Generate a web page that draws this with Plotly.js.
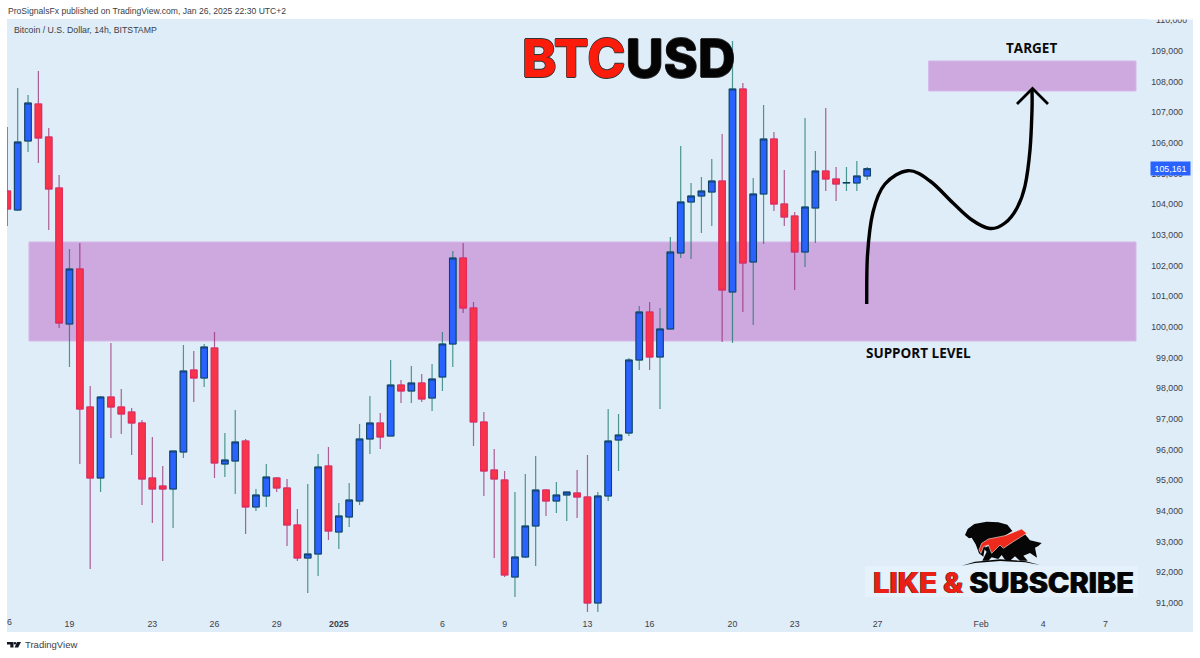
<!DOCTYPE html>
<html><head><meta charset="utf-8">
<script src="https://cdn.plot.ly/plotly-3.0.1.min.js"></script>
<style>html,body{margin:0;padding:0;background:#fff}#c{width:1200px;height:658px}</style>
</head><body><div id="c"></div>
<script>
const opens=[104434,103814,106065,107272,106196,104532,100094,101889,97386,95069,97712,97386,97222,96864,95069,94808,94710,95917,98593,98332,99311,95526,95624,96276,94123,94482,95069,94743,93535,92458,92589,95460,93307,93796,94318,96342,96864,96439,98103,97908,98169,97679,98364,99441,102247,100616,96896,95330,95004,91838,92491,93503,94677,94318,94514,94579,94449,90990,94482,96309,96537,98919,100485,99017,99931,102411,104075,104271,104401,104760,101138,107762,102117,104336,106130,104009,103618,102443,103879,105086,104825,104695,104695,104923];
const closes=[103846,106033,107305,106163,104499,100127,101889,97320,95069,97712,97386,97157,96864,95036,94710,94710,95950,98560,98332,99343,95558,95656,96244,94123,94514,95101,94743,93535,92458,92589,95428,93339,93829,94351,96342,96864,96407,98103,97908,98169,97647,98299,99441,102247,100616,96896,95297,95036,91904,92491,93503,94677,94318,94514,94612,94449,90990,94482,96276,96472,98919,100485,99017,99931,102443,104075,104271,104434,104760,101203,107762,102084,104336,106130,104009,103585,102443,103912,105086,104825,104662,104710,104923,105161];
const highs=[106522,107795,107566,108349,106489,104956,102541,102737,98071,97745,99474,97973,97353,96961,96407,95460,95950,99409,99213,99441,99833,96537,97288,96342,94710,95526,95101,95036,94057,94873,95852,96080,94253,94906,96831,97745,97190,98919,98267,98723,98462,98789,99833,102476,102737,100812,97222,96015,95297,94612,95199,95787,94710,94938,94612,95330,95819,94612,97320,97157,98984,100681,100812,100616,102933,105902,104695,104890,105478,106294,109328,107958,104858,107240,106359,105119,103748,106816,105739,107142,105217,105217,105413,105217];
const lows=[103292,103781,105706,105347,103161,99963,98691,95526,92100,94612,96374,96505,95819,94188,93601,92361,93437,95721,97549,98038,95069,95101,94547,93242,93992,94123,94612,92850,92361,91316,91871,93046,92752,93470,94188,95852,96015,96439,97516,97516,97549,97255,97908,98691,100453,96113,94482,92458,91838,91186,92458,92197,93829,93927,93666,93764,90696,90696,94318,95297,96439,98593,98593,97320,99931,102247,102215,103063,103292,99507,99474,100485,100061,102704,103781,103292,101203,101954,102737,104434,104107,104434,104434,104793];
const tickIndex=[6,14,20,26,32,42,48,56,62,70,76,84,94,100,106];
const tickText=['19','23','26','29','<b>2025</b>','6','9','13','16','20','23','27','Feb','4','7'];
const priceTicks=[91000,92000,93000,94000,95000,96000,97000,98000,99000,100000,101000,102000,103000,104000,105000,106000,107000,108000,109000];
const supportZone=[99540,102770];
const targetZone=[107697,108676];
const lastPrice=105161;
const indexes=opens.map((_,i)=>i);

const L=7,R=1193,T=19,B=632;
const xr=[-0.03,114.45], yr=[90044,110046];
const px=x=>(x-L)/(R-L), py=y=>1-(y-T)/(B-T);
const poly=(pts,close)=>pts.map((p,i)=>(i?'L':'M')+px(p[0]).toFixed(5)+' '+py(p[1]).toFixed(5)).join(' ')+(close?' Z':'');
function smooth(pts){
  let d='M'+px(pts[0][0]).toFixed(5)+' '+py(pts[0][1]).toFixed(5);
  for(let i=0;i<pts.length-1;i++){
    const a=pts[Math.max(i-1,0)],b=pts[i],c=pts[i+1],e=pts[Math.min(i+2,pts.length-1)];
    const c1=[b[0]+(c[0]-a[0])/6,b[1]+(c[1]-a[1])/6],c2=[c[0]-(e[0]-b[0])/6,c[1]-(e[1]-b[1])/6];
    d+=' C'+[c1,c2,c].map(p=>px(p[0]).toFixed(5)+' '+py(p[1]).toFixed(5)).join(' ');
  }
  return d;
}
const curve=[[866.7,304],[867.5,255],[873,212],[885,184],[908,170.7],[930,181],[953,203],[972,220],[990,228.5],[1005,223],[1017,208],[1025,186],[1030,150],[1032,110],[1032,89]];
const logoXY=a=>a.map(p=>[955+p[0]/3,515+p[1]/3]);
const bear=logoXY([[30,60],[38,42],[58,27],[95,20],[130,22],[157,29],[172,48],[150,62],[110,80],[90,95],[85,125],[72,115],[62,88],[50,68],[42,70]]);
const bull=logoXY([[85,100],[150,72],[210,58],[225,76],[260,84],[250,93],[240,98],[246,128],[225,114],[205,122],[218,137],[195,137],[180,124],[165,137],[150,134],[140,120],[130,132],[110,127],[100,137],[82,137],[95,110]]);
const red=logoXY([[72,105],[80,85],[100,72],[150,62],[200,42],[215,55],[175,80],[145,100],[135,90],[110,115],[100,90],[85,95],[78,115]]);
const ground=logoXY([[20,152],[60,140],[135,133],[210,138],[255,150],[210,142],[135,138],[60,144]]);
const pathShape=(d,fill,line,w)=>({type:'path',xref:'paper',yref:'paper',path:d,fillcolor:fill,line:{color:line||fill,width:w||0},layer:'above'});

const wickUp='rgba(25,120,110,0.75)', wickDn='rgba(150,40,110,0.72)';
const wicks={type:'candlestick',x:indexes,open:opens,high:highs,low:lows,close:closes,whiskerwidth:0,hoverinfo:'skip',showlegend:false,
  increasing:{line:{color:wickUp,width:1.2},fillcolor:'rgba(0,0,0,0)'},decreasing:{line:{color:wickDn,width:1.2},fillcolor:'rgba(0,0,0,0)'}};
const bodies={type:'candlestick',x:indexes,open:opens,close:closes,
  high:opens.map((o,i)=>Math.max(o,closes[i])),low:opens.map((o,i)=>Math.min(o,closes[i])),whiskerwidth:0,hoverinfo:'skip',showlegend:false,
  increasing:{line:{color:'#123f63',width:1},fillcolor:'#2962ff'},decreasing:{line:{color:'#e8285a',width:1},fillcolor:'#f7344a'}};

const sans='"Liberation Sans",sans-serif';
const tickFont={family:sans,size:8.8,color:'#3c4048'};
const ann=(x,y,text,font,extra)=>Object.assign({xref:'paper',yref:'paper',x:px(x),y:py(y),text,showarrow:false,font,xanchor:'left',yanchor:'middle',borderpad:0},extra||{});
const layout={
  width:1200,height:658,margin:{l:L,r:1200-R,t:T,b:658-B,pad:0},paper_bgcolor:'#ffffff',plot_bgcolor:'#dfedf9',
  showlegend:false,boxmode:'overlay',boxgap:0.1,
  xaxis:{type:'linear',range:xr,tickmode:'array',tickvals:tickIndex,ticktext:tickText,ticklabelposition:'inside',ticks:'',showgrid:false,zeroline:false,showline:false,rangeslider:{visible:false},
    tickfont:tickFont,ticklabelstandoff:0},
  yaxis:{type:'linear',side:'right',range:yr,tickmode:'array',tickvals:priceTicks,tickformat:',d',ticklabelposition:'inside',ticks:'',showgrid:false,zeroline:false,showline:false,
    tickfont:tickFont,ticklabelstandoff:7},
  shapes:[
    {type:'rect',xref:'x',yref:'y',x0:2.09,x1:108.95,y0:supportZone[0],y1:supportZone[1],fillcolor:'#cda9df',line:{color:'#d6b8e8',width:1},layer:'below'},
    {type:'rect',xref:'x',yref:'y',x0:88.93,x1:108.95,y0:targetZone[0],y1:targetZone[1],fillcolor:'#cda9df',line:{color:'#d6b8e8',width:1},layer:'below'},
    pathShape(smooth(curve),'rgba(0,0,0,0)','#000000',3.4),
    pathShape(poly([[1017,104],[1032.5,88.5],[1048,104]]),'rgba(0,0,0,0)','#000000',2.8),
    {type:'rect',xref:'paper',yref:'paper',x0:px(865),x1:px(1138),y0:py(597),y1:py(566),fillcolor:'rgba(229,241,251,0.9)',line:{width:0},layer:'below'},
    pathShape(poly(bear,true),'#060606'),
    pathShape(poly(bull,true),'#060606'),
    pathShape(poly(red,true),'#ee2a1c','#f4e8e8',0.6),
    pathShape(poly(ground,true),'#060606'),
    pathShape(poly([[7,642],[13.5,642],[13.5,647.5],[10.3,647.5],[10.3,644.4],[7,644.4]],true),'#131722'),
    pathShape(poly([[17,642],[21,642],[18.2,647.5],[14.6,647.5]],true),'#131722'),
    {type:'circle',xref:'paper',yref:'paper',x0:px(13.8),x1:px(16.2),y0:py(644.4),y1:py(642),fillcolor:'#131722',line:{width:0}}
  ],
  annotations:[
    ann(7,11,'ProSignalsFx published on TradingView.com, Jan 26, 2025 22:30 UTC+2',{family:sans,size:8.6,color:'#3a3e46'}),
    ann(13,30,'Bitcoin / U.S. Dollar, 14h, BITSTAMP',{family:sans,size:8.75,color:'#3a3e46'}),
    ann(24,645,'TradingView',{family:sans,size:9.5,color:'#3a3e46'}),
    ann(9,622,'6',tickFont,{xanchor:'center'}),
    ann(1171.5,20.5,'110,000',tickFont,{xanchor:'center'}),
    ann(1170,12.5,'&#160;',{family:sans,size:8,color:'#ffffff'},{xanchor:'center',bgcolor:'#ffffff',width:44,height:13}),
    ann(629,58,'<span style="color:#fb1c0c">BTC</span>USD',{family:'Inter',size:52,weight:800,color:'#040404',shadow:'0.7px 0 0 #333,-0.7px 0 0 #333,0 0.7px 0 #333,0 -0.7px 0 #333'},{xanchor:'center'}),
    ann(1031,48,'TARGET',{family:'"Open Sans"',size:13.5,weight:700,color:'#0a0a0a'},{xanchor:'center'}),
    ann(919,353,'SUPPORT LEVEL',{family:'"Open Sans"',size:13.5,weight:700,color:'#0a0a0a'},{xanchor:'center'}),
    ann(1003,582.5,'<span style="color:#ec1f14">LIKE &amp; </span>SUBSCRIBE',{family:'Inter',size:29,weight:800,color:'#050505',shadow:'0.6px 0 0 #333,-0.6px 0 0 #333'},{xanchor:'center'}),
    {xref:'paper',yref:'y',x:px(1170.5),y:lastPrice,xanchor:'center',yanchor:'middle',text:'105,161',showarrow:false,bgcolor:'#2962ff',width:39,height:13,borderpad:0,font:{family:sans,size:8.8,color:'#ffffff'}}
  ]
};
Plotly.newPlot('c',[wicks,bodies],layout,{displayModeBar:false,staticPlot:true});
</script></body></html>
